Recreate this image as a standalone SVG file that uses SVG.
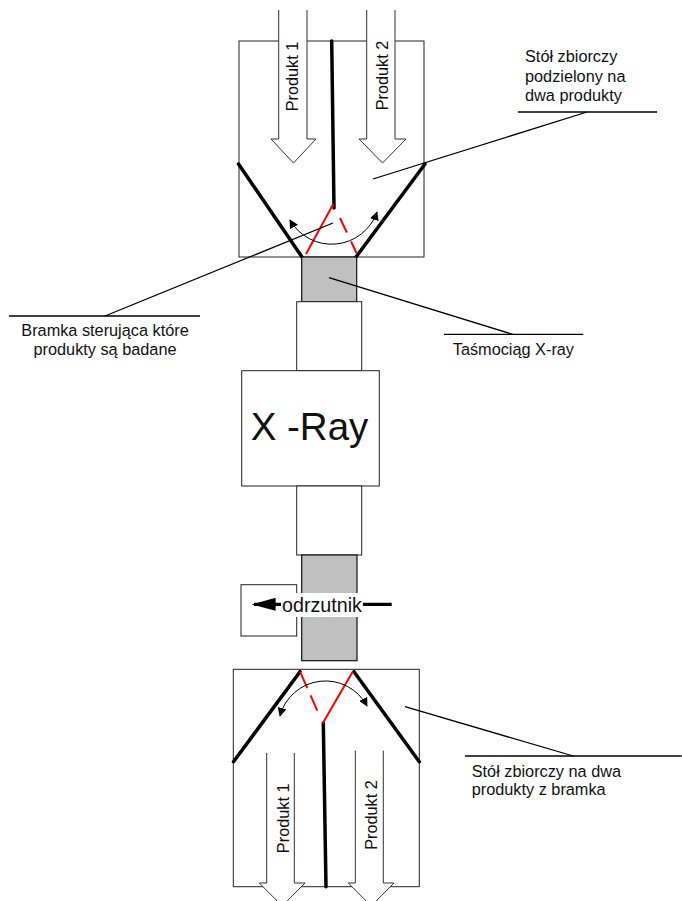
<svg xmlns="http://www.w3.org/2000/svg" width="682" height="901" viewBox="0 0 682 901">
<style>
.box{fill:#fff;stroke:#222;stroke-width:1}
.gray{fill:#c0c0c0;stroke:#111;stroke-width:1.2}
.arr{fill:#fff;stroke:#333;stroke-width:1}
.thick{stroke:#000;stroke-width:3.5;stroke-linecap:round;fill:none}
.red{stroke:#f00;stroke-width:2;fill:none}
.lead{stroke:#000;stroke-width:1.3;fill:none}
.t{font-family:"Liberation Sans",Arial,sans-serif;font-size:16.3px;fill:#111}
.curve{stroke:#000;stroke-width:1;fill:none;marker-start:url(#ah);marker-end:url(#ah)}
</style>
<defs>
<marker id="ah" viewBox="0 0 10 10" refX="9" refY="5" markerWidth="9" markerHeight="9" markerUnits="userSpaceOnUse" orient="auto-start-reverse">
<path d="M0,0 L10,5 L0,10 z" fill="#000"/>
</marker>
<marker id="ah2" viewBox="0 0 10 10" refX="9" refY="5" markerWidth="24" markerHeight="13" markerUnits="userSpaceOnUse" orient="auto" preserveAspectRatio="none">
<path d="M0,0 L10,5 L0,10 z" fill="#000"/>
</marker>
</defs>

<g id="top-table">
<rect class="box" x="239" y="41" width="185" height="216"/>
<path class="arr" d="M278.7,10 V139 H271 L293.5,163 L316,139 H307 V10"/>
<path class="arr" d="M366.7,10 V139 H359 L382.5,163 L406,139 H395 V10"/>
<text class="t" transform="translate(298.3,76.5) rotate(-90)" text-anchor="middle">Produkt 1</text>
<text class="t" transform="translate(388.3,75.5) rotate(-90)" text-anchor="middle">Produkt 2</text>
<line class="thick" x1="331.7" y1="41" x2="334" y2="208"/>
<line class="thick" x1="238.5" y1="164" x2="302" y2="257"/>
<line class="thick" x1="425" y1="164" x2="356" y2="257"/>
<line class="red" x1="333.3" y1="204" x2="306" y2="254"/>
<line class="red" x1="340" y1="218" x2="356.5" y2="253" stroke-dasharray="16,10"/>
<path class="curve" d="M290,220 A48,48 0 0,0 377,212"/>
</g>

<g id="conveyor-top">
<rect class="gray" x="301.7" y="257" width="55" height="44.7"/>
<rect class="box" x="296.7" y="301.7" width="65" height="69"/>
</g>

<g id="xray">
<rect class="box" x="241.7" y="370.7" width="137.6" height="115.3"/>
<text x="309.5" y="440" text-anchor="middle" font-family="'Liberation Sans',Arial,sans-serif" font-size="38.5" fill="#111">X -Ray</text>
</g>

<g id="conveyor-bottom">
<rect class="box" x="296.7" y="486" width="65" height="69"/>
<rect class="gray" x="301.7" y="555" width="55.3" height="105.7"/>
</g>

<g id="odrzutnik">
<rect class="box" x="241" y="584.7" width="55.7" height="51.3"/>
<line x1="391.7" y1="604.3" x2="254" y2="604.3" stroke="#000" stroke-width="3.2" marker-end="url(#ah2)"/>
<rect x="281" y="593" width="82" height="24" fill="#fff"/>
<text x="322" y="611.5" text-anchor="middle" font-family="'Liberation Sans',Arial,sans-serif" font-size="19.7" fill="#111">odrzutnik</text>
</g>

<g id="bottom-table">
<rect class="box" x="233.3" y="669.3" width="186" height="217.4"/>
<path class="arr" d="M266.7,753 V883 H259.3 L282.2,906 L305,883 H294.3 V753"/>
<path class="arr" d="M355.3,750.7 V883 H348.3 L371.2,906 L394,883 H383.3 V750.7"/>
<text class="t" transform="translate(288.5,818.3) rotate(-90)" text-anchor="middle">Produkt 1</text>
<text class="t" transform="translate(376.8,815) rotate(-90)" text-anchor="middle">Produkt 2</text>
<line class="thick" x1="323.3" y1="723" x2="326" y2="886.7"/>
<line class="thick" x1="233.5" y1="761.7" x2="300" y2="671.7"/>
<line class="thick" x1="354" y1="671.7" x2="419.3" y2="761.7"/>
<line class="red" x1="352.7" y1="671.7" x2="322.7" y2="723.3"/>
<line class="red" x1="300" y1="671.7" x2="317.3" y2="710.7" stroke-dasharray="18,8"/>
<path class="curve" d="M280,716 A47,47 0 0,1 367,706"/>
</g>

<g id="connectors">
<line class="lead" x1="373" y1="179" x2="587" y2="112"/>
<line class="lead" x1="518" y1="112" x2="657" y2="112"/>
<line class="lead" x1="105" y1="316" x2="333" y2="223"/>
<line class="lead" x1="9" y1="316" x2="200" y2="316"/>
<line class="lead" x1="329" y1="277.7" x2="512.7" y2="334.3"/>
<line class="lead" x1="444" y1="334.3" x2="583.3" y2="334.3"/>
<line class="lead" x1="405" y1="706.7" x2="573.3" y2="756"/>
<line class="lead" x1="465" y1="756" x2="681.7" y2="756"/>
</g>

<g id="labels">
<text class="t" x="525" y="62">Stół zbiorczy</text>
<text class="t" x="525" y="81.7">podzielony na</text>
<text class="t" x="525" y="101.3">dwa produkty</text>
<text class="t" x="105" y="336" text-anchor="middle">Bramka sterująca które</text>
<text class="t" x="105" y="354.5" text-anchor="middle">produkty są badane</text>
<text class="t" x="513.4" y="355" text-anchor="middle">Taśmociąg X-ray</text>
<text class="t" x="471.7" y="776.7">Stół zbiorczy na dwa</text>
<text class="t" x="471.7" y="795.3">produkty z bramka</text>
</g>
</svg>
